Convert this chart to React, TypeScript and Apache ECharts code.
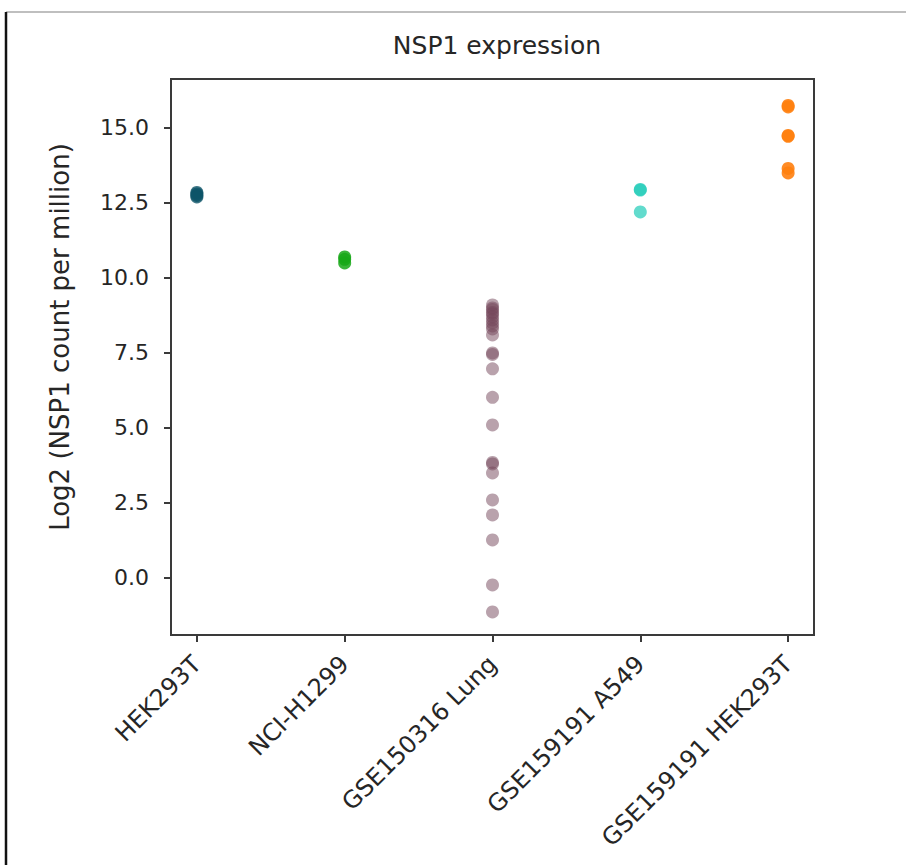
import React, { useEffect, useRef } from "react";
import * as echarts from "echarts";

const categories = ["HEK293T", "NCI-H1299", "GSE150316 Lung", "GSE159191 A549", "GSE159191 HEK293T"];
const yTicks = [0, 2.5, 5, 7.5, 10, 12.5, 15];
const hek293t = [12.85, 12.8, 12.75, 12.7];
const nciH1299 = [10.7, 10.62, 10.5];
const lung = [9.1, 9.0, 8.95, 8.85, 8.8, 8.7, 8.6, 8.5, 8.4, 8.3, 8.1, 7.5, 7.45, 6.97, 6.02, 5.1, 3.85, 3.8, 3.5, 2.6, 2.1, 1.27, -0.23, -1.13];
const a549 = [12.95, 12.93, 12.2];
const hek159191 = [15.75, 15.7, 14.75, 14.72, 13.65, 13.5];

const groups = [hek293t, nciH1299, lung, a549, hek159191];
const colors = ["#0c5468", "#18a818", "#73465a", "#20ccb8", "#ff7f0e"];
const opacities = [0.8, 0.85, 0.5, 0.7, 0.9];

const FONT = "DejaVu Sans, Verdana, sans-serif";

export default function App() {
  const ref = useRef<HTMLDivElement>(null);
  useEffect(() => {
    document.body.style.margin = "0";
    const chart = echarts.init(ref.current!, null, { renderer: "svg" });
    chart.setOption({
      animation: false,
      backgroundColor: "#ffffff",
      title: {
        text: "NSP1 expression",
        left: 492,
        top: 28,
        textAlign: "center",
        textStyle: { fontFamily: FONT, fontSize: 25, fontWeight: "normal", color: "#262626" },
      },
      graphic: [
        { type: "line", shape: { x1: 6, y1: 12, x2: 906, y2: 12 }, style: { stroke: "#aaaaaa", lineWidth: 1.5 } },
        { type: "line", shape: { x1: 6, y1: 12, x2: 6, y2: 865 }, style: { stroke: "#111111", lineWidth: 2.5 } },
      ],
      grid: {
        left: 171,
        right: 92,
        top: 79,
        bottom: 230,
        show: true,
        borderColor: "#3a3a3a",
        borderWidth: 2,
        backgroundColor: "transparent",
      },
      xAxis: {
        type: "value",
        min: -0.175,
        max: 4.175,
        splitLine: { show: false },
        axisLine: { show: true, onZero: false, lineStyle: { color: "#3a3a3a", width: 2 } },
        axisTick: { show: true, customValues: [0, 1, 2, 3, 4], length: 7, lineStyle: { color: "#3a3a3a", width: 2 } },
        axisLabel: {
          customValues: [0, 1, 2, 3, 4],
          formatter: (v: number) => categories[Math.round(v)],
          rotate: 45,
          margin: 25,
          fontFamily: FONT,
          fontSize: 24,
          color: "#262626",
        },
      },
      yAxis: {
        type: "value",
        min: -1.9,
        max: 16.63,
        name: "Log2 (NSP1 count per million)",
        nameLocation: "middle",
        nameGap: 98,
        nameTextStyle: { fontFamily: FONT, fontSize: 26, color: "#262626", padding: [0, 0, 0, 40] },
        splitLine: { show: false },
        axisLine: { show: true, onZero: false, lineStyle: { color: "#3a3a3a", width: 2 } },
        axisTick: { show: true, customValues: yTicks, length: 7, lineStyle: { color: "#3a3a3a", width: 2 } },
        axisLabel: {
          customValues: yTicks,
          formatter: (v: number) => v.toFixed(1),
          margin: 22,
          fontFamily: FONT,
          fontSize: 22,
          color: "#262626",
        },
      },
      series: groups.map((vals, i) => ({
        type: "scatter",
        name: categories[i],
        symbolSize: 13,
        itemStyle: { color: colors[i], opacity: opacities[i] },
        data: vals.map((v) => [i, v]),
      })),
    });
    return () => chart.dispose();
  }, []);
  return <div ref={ref} style={{ width: 906, height: 865 }} />;
}
